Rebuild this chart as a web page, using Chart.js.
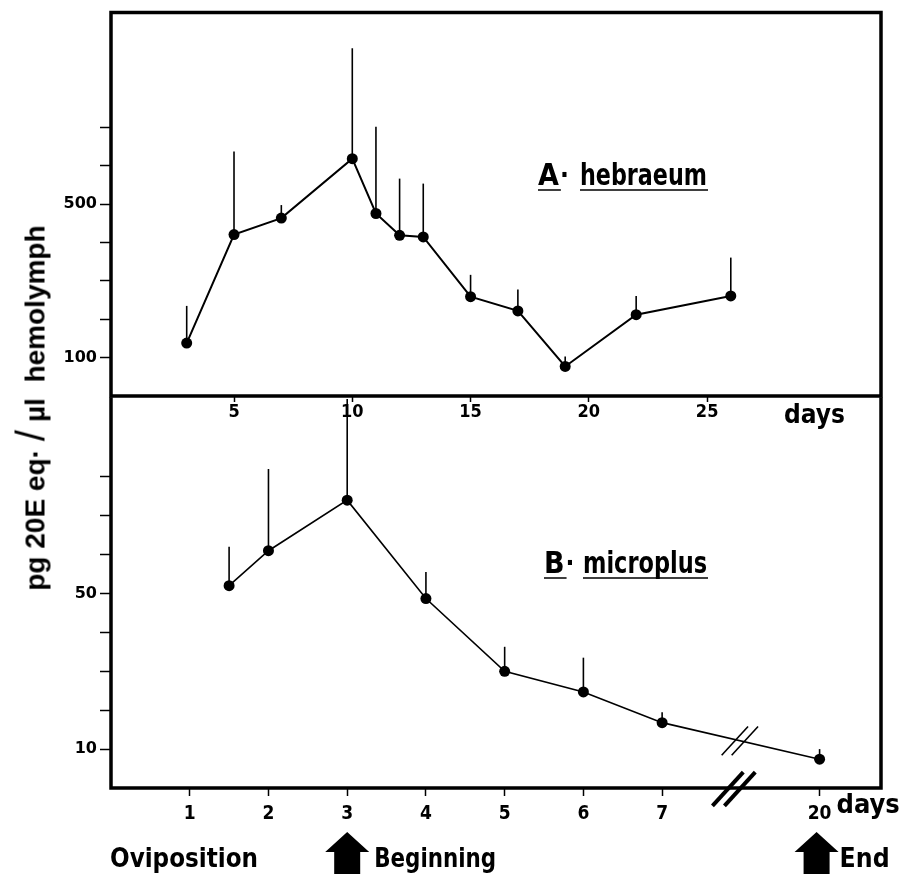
<!DOCTYPE html>
<html>
<head>
<meta charset="utf-8">
<script src="https://cdn.jsdelivr.net/npm/chart.js@4.4.0/dist/chart.umd.min.js"></script>
<style>
  body { margin:0; background:#fff; }
  #wrap { position:relative; width:902px; height:874px; overflow:hidden; }
  #wrap canvas { position:absolute; left:0; }
  #topChart { top:0; }
  #botChart { top:380px; }
  #ytitle {
    position:absolute; left:31px; top:408px; white-space:nowrap;
    transform: translate(-50%,-50%) rotate(-90deg);
    font: bold 28px 'Liberation Sans', Arial, sans-serif; color:#000;
  }
  #ytitle .sl { font-weight:normal; font-size:40px; margin:0 8px; }
</style>
</head>
<body>
<div id="wrap">
  <canvas id="topChart" width="902" height="440"></canvas>
  <canvas id="botChart" width="902" height="494"></canvas>
  <div id="ytitle">pg 20E eq·<span class="sl">/</span>µl&nbsp; hemolymph</div>
</div>
<script>
// A. hebraeum (days after drop-off)
const hebDays = [3, 5, 7, 10, 11, 12, 13, 15, 17, 19, 22, 26];
const hebMean = [138, 421, 464, 619, 476, 419, 415, 259, 222, 77, 212, 261];
const hebErrTop = [235, 638, 498, 907, 702, 567, 554, 316, 278, 103, 261, 361];
const hebTicksX = [5, 10, 15, 20, 25];
const hebTicksY = [100, 200, 300, 400, 500, 600, 700];
const hebLabelsY = [100, 500];

// B. microplus
const micDays = [1.5, 2, 3, 4, 5, 6, 7, 20];
const micMean = [52, 61, 74, 48.7, 30, 24.7, 16.8, 7.4];
const micErrTop = [62, 82, 100, 55.5, 36.3, 33.5, 19.5, 10];
const micTicksX = [1, 2, 3, 4, 5, 6, 7, 20];
const micTicksY = [10, 20, 30, 40, 50, 60, 70, 80];
const micLabelsY = [10, 50];

// broken x axis for B: everything after the break is pulled in
const BREAK_AT = 8, BREAK_SKIP = 11;
function brk(d) { return d > BREAK_AT ? d - BREAK_SKIP : d; }
function unbrk(p) { return p > BREAK_AT ? p + BREAK_SKIP : p; }

const NARROW = "'Liberation Sans Narrow', 'DejaVu Sans Condensed', 'Liberation Sans', sans-serif";

Chart.defaults.color = '#000';
Chart.defaults.animation = false;

// error bars (upper half only)
const errBars = {
  id: 'errBars',
  beforeDatasetsDraw(chart, args, opts) {
    const ctx = chart.ctx, y = chart.scales.y;
    const meta = chart.getDatasetMeta(0);
    ctx.save();
    ctx.strokeStyle = '#000';
    ctx.lineWidth = 1.6;
    opts.tops.forEach((t, i) => {
      const pt = meta.data[i];
      ctx.beginPath();
      ctx.moveTo(pt.x, pt.y);
      ctx.lineTo(pt.x, y.getPixelForValue(t));
      ctx.stroke();
    });
    ctx.restore();
  }
};

// box around the plot
const frame = {
  id: 'frame',
  afterDraw(chart, args, opts) {
    const {ctx, chartArea: a} = chart;
    ctx.save();
    ctx.strokeStyle = '#000';
    ctx.lineWidth = 3.5;
    ctx.lineCap = 'square';
    ctx.beginPath();
    if (opts.top) { ctx.moveTo(a.left, a.top); ctx.lineTo(a.right, a.top); }
    ctx.moveTo(a.left, a.top); ctx.lineTo(a.left, a.bottom);
    ctx.moveTo(a.right, a.top); ctx.lineTo(a.right, a.bottom);
    ctx.moveTo(a.left, a.bottom); ctx.lineTo(a.right, a.bottom);
    ctx.stroke();
    ctx.restore();
  }
};

// species name with underlines
function speciesLabel(ctx, x, base, letter, name, nameX, nameW) {
  ctx.save();
  ctx.fillStyle = '#000';
  ctx.strokeStyle = '#000';
  ctx.textBaseline = 'alphabetic';
  ctx.font = 'bold 30px ' + NARROW;
  ctx.fillText(letter, x, base);
  const w1 = ctx.measureText(letter).width;
  ctx.font = 'bold 26px ' + NARROW;
  ctx.fillText('·', x + w1 + 1, base - 1);
  ctx.font = 'bold 30px ' + NARROW;
  ctx.fillText(name, nameX, base, nameW);
  ctx.lineWidth = 1.6;
  ctx.beginPath();
  ctx.moveTo(x, base + 5); ctx.lineTo(x + w1 + 2, base + 5);
  ctx.moveTo(nameX, base + 5); ctx.lineTo(nameX + nameW + 1, base + 5);
  ctx.stroke();
  ctx.restore();
}

function xTitle(ctx, text, x, base, size) {
  ctx.save();
  ctx.font = 'bold ' + size + 'px ' + NARROW;
  ctx.fillStyle = '#000';
  ctx.fillText(text, x, base);
  ctx.restore();
}

const topNotes = {
  id: 'topNotes',
  afterDraw(chart) {
    const a = chart.chartArea;
    speciesLabel(chart.ctx, a.left + 427, 185, 'A', 'hebraeum', a.left + 469, 127);
    xTitle(chart.ctx, 'days', a.right - 97, a.bottom + 27, 26);
  }
};

function arrow(ctx, cx, top, bottom) {
  ctx.beginPath();
  ctx.moveTo(cx, top);
  ctx.lineTo(cx + 22, top + 20);
  ctx.lineTo(cx + 13, top + 20);
  ctx.lineTo(cx + 13, bottom);
  ctx.lineTo(cx - 13, bottom);
  ctx.lineTo(cx - 13, top + 20);
  ctx.lineTo(cx - 22, top + 20);
  ctx.closePath();
  ctx.fill();
}

function slashes(ctx, cx, cy, len, gap, width) {
  ctx.save();
  ctx.lineWidth = width;
  ctx.lineCap = 'butt';
  [-gap / 2, gap / 2].forEach(off => {
    ctx.beginPath();
    ctx.moveTo(cx + off - len * 0.55, cy + len * 0.6);
    ctx.lineTo(cx + off + len * 0.55, cy - len * 0.6);
    ctx.stroke();
  });
  ctx.restore();
}

const botNotes = {
  id: 'botNotes',
  afterDraw(chart) {
    const ctx = chart.ctx, a = chart.chartArea;
    const x = chart.scales.x, y = chart.scales.y;
    speciesLabel(ctx, a.left + 433, 573 - 380, 'B', 'microplus', a.left + 472, 124);
    ctx.save();
    ctx.fillStyle = '#000';
    ctx.strokeStyle = '#000';
    // break marks on the line and on the axis
    const bx = x.getPixelForValue(BREAK_AT);
    const by = y.getPixelForValue(micMean[6] + (micMean[7] - micMean[6]) * (BREAK_AT - 7) / (brk(20) - 7));
    slashes(ctx, bx - 1, by, 24, 10, 1.6);
    slashes(ctx, bx - 7, a.bottom + 1, 28, 12, 4);
    // days label after the last tick
    xTitle(ctx, 'days', x.getPixelForValue(brk(20)) + 17, a.bottom + 25, 27);
    // oviposition markers
    const base = 867 - 380;
    ctx.font = 'bold 27px ' + NARROW;
    ctx.fillText('Oviposition', a.left - 1, base, 148);
    const b = x.getPixelForValue(brk(3));
    arrow(ctx, b, 832 - 380, 494);
    ctx.fillText('Beginning', b + 27, base, 122);
    const e = x.getPixelForValue(brk(20));
    arrow(ctx, e - 3, 832 - 380, 494);
    ctx.fillText('End', e + 20, base, 50);
    ctx.restore();
  }
};

function fixTicks(list) {
  return function (scale) { scale.ticks = list.map(v => ({value: v})); };
}

new Chart(document.getElementById('topChart'), {
  type: 'line',
  data: {
    datasets: [{
      data: hebDays.map((d, i) => ({x: d, y: hebMean[i]})),
      borderColor: '#000',
      borderWidth: 2,
      backgroundColor: '#000',
      pointRadius: 5.5,
      pointBackgroundColor: '#000',
      pointBorderWidth: 0,
      tension: 0
    }]
  },
  options: {
    responsive: false,
    devicePixelRatio: 1,
    layout: {padding: {top: 10, right: 21, left: 0, bottom: 0}},
    plugins: {legend: {display: false}, tooltip: {enabled: false}, errBars: {tops: hebErrTop}, frame: {top: true}},
    scales: {
      x: {
        type: 'linear', min: -0.2, max: 32.35,
        afterBuildTicks: fixTicks(hebTicksX),
        afterFit(s) { s.height = 44; },
        border: {display: false},
        grid: {drawOnChartArea: false, color: '#000', tickLength: 6, tickWidth: 1.5},
        ticks: {padding: 0, font: {family: NARROW, size: 18, weight: 'bold'}}
      },
      y: {
        min: 0, max: 1000,
        afterBuildTicks: fixTicks(hebTicksY),
        afterFit(s) { s.width = 111; },
        border: {display: false},
        grid: {drawOnChartArea: false, color: '#000', tickLength: 11, tickWidth: 1.5},
        ticks: {
          padding: 3,
          font: {family: "'DejaVu Sans', sans-serif", size: 16, weight: 'bold'},
          callback: v => hebLabelsY.includes(v) ? String(v) : ''
        }
      }
    }
  },
  plugins: [errBars, frame, topNotes]
});

new Chart(document.getElementById('botChart'), {
  type: 'line',
  data: {
    datasets: [{
      data: micDays.map((d, i) => ({x: brk(d), y: micMean[i]})),
      borderColor: '#000',
      borderWidth: 1.6,
      backgroundColor: '#000',
      pointRadius: 5.5,
      pointBackgroundColor: '#000',
      pointBorderWidth: 0,
      tension: 0
    }]
  },
  options: {
    responsive: false,
    devicePixelRatio: 1,
    layout: {padding: {top: 19, right: 21, left: 0, bottom: 0}},
    plugins: {legend: {display: false}, tooltip: {enabled: false}, errBars: {tops: micErrTop}, frame: {top: false}},
    scales: {
      x: {
        type: 'linear', min: 0, max: 9.78,
        afterBuildTicks: fixTicks(micTicksX.map(brk)),
        afterFit(s) { s.height = 86; },
        border: {display: false},
        grid: {drawOnChartArea: false, color: '#000', tickLength: 8, tickWidth: 1.5},
        ticks: {
          padding: 7,
          font: {family: NARROW, size: 19, weight: 'bold'},
          callback: v => String(unbrk(v))
        }
      },
      y: {
        min: 0, max: 100,
        afterBuildTicks: fixTicks(micTicksY),
        afterFit(s) { s.width = 111; },
        border: {display: false},
        grid: {drawOnChartArea: false, color: '#000', tickLength: 11, tickWidth: 1.5},
        ticks: {
          padding: 3,
          font: {family: "'DejaVu Sans', sans-serif", size: 16, weight: 'bold'},
          callback: v => micLabelsY.includes(v) ? String(v) : ''
        }
      }
    }
  },
  plugins: [errBars, frame, botNotes]
});
</script>
</body>
</html>
